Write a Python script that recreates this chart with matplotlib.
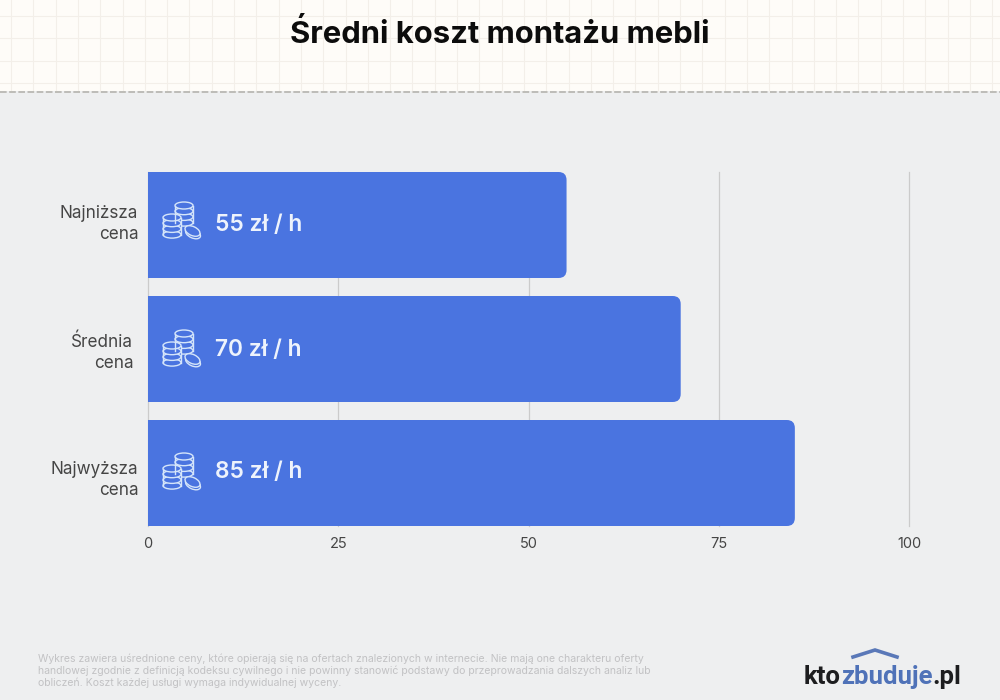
import matplotlib
matplotlib.use("Agg")
import matplotlib.pyplot as plt
from matplotlib.patches import Ellipse, FancyBboxPatch, Rectangle
from matplotlib.transforms import ScaledTranslation, IdentityTransform

plt.rcParams['font.family'] = ['Inter', 'DejaVu Sans']

categories = ["Najniższa\ncena", "Średnia\ncena", "Najwyższa\ncena"]
values = [55, 70, 85]
x_ticks = [0, 25, 50, 75, 100]
title = "Średni koszt montażu mebli"
footnote = ("Wykres zawiera uśrednione ceny, które opierają się na ofertach znalezionych w internecie. Nie mają one charakteru oferty\n"
            "handlowej zgodnie z definicją kodeksu cywilnego i nie powinny stanowić podstawy do przeprowadzania dalszych analiz lub\n"
            "obliczeń. Koszt każdej usługi wymaga indywidualnej wyceny.")

BLUE = "#4a74e0"
ICON = "#d5e5fa"
W, H = 1000, 700
fig = plt.figure(figsize=(10, 7), dpi=100, facecolor="#eeeff0")

# Background layer in pixel coordinates
bg = fig.add_axes([0, 0, 1, 1], zorder=0)
bg.set_xlim(0, W); bg.set_ylim(H, 0); bg.axis("off")
bg.add_patch(Rectangle((0, 0), W, 91, fc="#fefcf8", ec="none"))
for i in range(45):
    bg.plot([11 + i * 22.3] * 2, [0, 91], color="#f3efe9", lw=0.8)
for y in (16, 38, 60.5, 83):
    bg.plot([0, W], [y, y], color="#f3efe9", lw=0.8)
bg.plot([0, W], [91.5, 91.5], color="#b5b3ae", lw=1.2, dashes=(4, 1.5))

# Chart
ax = fig.add_axes([148 / W, 1 - 526 / H, (909 - 148) / W, (526 - 172) / H], zorder=1)
ax.patch.set_alpha(0)
for s in ax.spines.values():
    s.set_visible(False)
ax.set_xlim(0, 100)
ax.set_ylim(2 + 53 / 124, -53 / 124)
ax.set_axisbelow(True)
ax.grid(axis="x", color="#cbcbcb", lw=0.9)
ax.grid(axis="y", visible=False)
ax.set_xticks(x_ticks)
ax.set_yticks(range(len(categories)))
ax.set_yticklabels(categories, fontsize=12.3, color="#454545", ha="right", linespacing=1.32)
ax.tick_params(axis="both", length=0)
ax.tick_params(axis="x", labelsize=10.5, labelcolor="#454545", pad=8)
ax.tick_params(axis="y", pad=7)
for gl in ax.get_xgridlines():
    gl.set_clip_on(False)

# per-label nudges (points)
for lab, (dx, dy) in zip(ax.get_yticklabels(), [(0, 3.4), (-3.6, 0.3), (0, -1.8)]):
    lab.set_transform(lab.get_transform() + ScaledTranslation(dx / 72, dy / 72, fig.dpi_scale_trans))

bars = ax.barh(range(len(values)), values, height=106 / 124, color=BLUE, zorder=3)

# Round the right-hand corners of the bars
fig.canvas.draw()
for bar in bars:
    bb = bar.get_window_extent()
    clip = FancyBboxPatch((bb.x0 - 20, bb.y0), bb.width + 20, bb.height,
                          boxstyle="round,pad=0,rounding_size=8",
                          transform=IdentityTransform())
    bar.set_clip_path(clip)

# Overlay for value labels, icons, title and logo
ov = fig.add_axes([0, 0, 1, 1], zorder=2)
ov.set_xlim(0, W); ov.set_ylim(H, 0); ov.axis("off"); ov.patch.set_alpha(0)


def stack(cx, top, n=4, w=18, step=5.7, eh=7):
    y0 = top + eh / 2
    y1 = y0 + (n - 1) * step
    ov.add_patch(Rectangle((cx - w / 2, y0), w, y1 - y0, fc=BLUE, ec="none"))
    for k in range(n - 1, -1, -1):
        ov.add_patch(Ellipse((cx, y0 + k * step), w, eh, fc=BLUE, ec=ICON, lw=1.0))
    ov.plot([cx - w / 2] * 2, [y0, y1], color=ICON, lw=1.0)
    ov.plot([cx + w / 2] * 2, [y0, y1], color=ICON, lw=1.0)


def coins(cy):
    stack(184, cy - 22)
    stack(172, cy - 10)
    ov.add_patch(Ellipse((193, cy + 9.5), 16, 9, angle=25, fc=BLUE, ec=ICON, lw=1.0))
    ov.add_patch(Ellipse((192.5, cy + 7), 16, 9, angle=25, fc=BLUE, ec=ICON, lw=1.0))


for yc, ytxt, v in zip((224, 352, 475), (225, 350, 472), values):
    coins(yc)
    ov.text(215, ytxt, f"{v} zł / h", color="#eef3fc", fontsize=16.4, fontweight="semibold",
            ha="left", va="center")

ov.text(500, 34, title, color="#0c0c0c", fontsize=22.3, fontweight="bold", ha="center", va="center")
ov.text(38, 671, footnote, color="#c2c2c4", fontsize=7.56, ha="left", va="center", linespacing=1.2)

# Logo
r = fig.canvas.get_renderer()
x = 804
for part, col in (("kto", "#1d1d1f"), ("zbuduje", "#4f72b8"), (".pl", "#1d1d1f")):
    t = ov.text(x, 684, part, color=col, fontsize=18.5, fontweight="bold", family="Roboto",
                ha="left", va="baseline")
    x += t.get_window_extent(r).width
ov.plot([853, 875, 897], [657, 650, 657], color="#5a78b8", lw=2.6, solid_joinstyle="miter")

fig.savefig("out.png", dpi=100, facecolor=fig.get_facecolor())
